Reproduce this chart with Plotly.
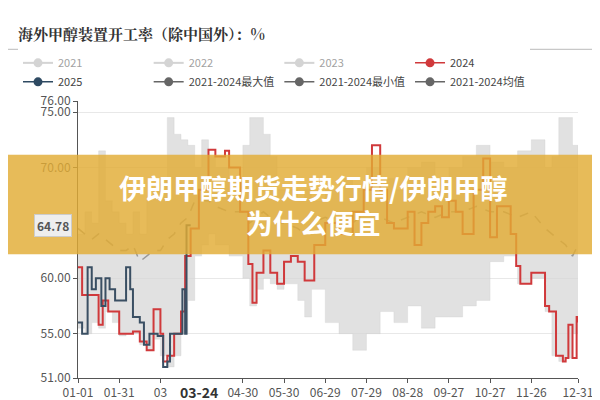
import pandas as pd
import plotly.graph_objects as go

base = pd.Timestamp("2023-01-01")

# shared day offsets for the 2021-2024 statistics band
band_days = [0, 5, 10, 15, 20, 25, 30, 35, 40, 45, 50, 55, 60, 65, 70, 75, 80, 85, 90, 95, 100, 110,
             120, 125, 130, 135, 140, 145, 150, 160, 165, 170, 180, 190, 200, 210, 220, 230, 240, 250,
             260, 270, 280, 290, 300, 310, 320, 330, 340, 345, 350, 355, 360, 364]
max_vals = [64, 66, 65, 71.5, 67, 66, 65, 64, 66, 64, 67, 68, 69, 74.5, 73, 72.5, 72, 70, 72.5, 71, 70, 69,
            72, 74.5, 74.5, 73, 71, 68, 68, 67, 68, 67, 68, 69, 68, 70, 69, 68, 70, 70.5,
            69, 70, 71, 72, 70.5, 70, 71.5, 72.5, 70, 71, 74.5, 74.5, 72, 66]
min_vals = [55.5, 55, 56, 55.5, 57, 56, 54.8, 55, 55, 54, 53.5, 54.5, 53, 52, 53, 55, 58, 62, 63, 64, 63, 62,
            60, 57.5, 59, 60, 59.5, 59, 59.5, 58, 56.5, 59, 56, 55, 53.5, 55, 57, 56, 57.5, 55.5,
            56.5, 56.5, 57.5, 58, 61.5, 62, 59.5, 60, 57, 53, 52.5, 52.8, 55, 56]
avg_vals = [64.5, 64, 63.5, 64, 63.5, 63, 62.5, 62.5, 63, 61.5, 62, 62.5, 62.5, 63.5, 64, 65, 65.5, 67, 67, 67, 66.5, 66,
            66, 65, 65.5, 66, 65.5, 65, 65, 64.5, 64, 65, 65.5, 65, 65, 66, 65.5, 65, 65.5, 66,
            65.5, 66, 66, 66.5, 66, 66, 65.5, 66, 64.5, 64, 63.5, 63, 62, 63]

days_2024 = [0, 3, 10, 15, 18, 22, 30, 40, 45, 50, 55, 60, 62, 65, 70, 75, 78, 82, 88, 95, 100, 107, 110,
             118, 124, 127, 130, 135, 140, 145, 150, 155, 160, 165, 172, 180, 190, 200, 208, 214, 220,
             225, 230, 240, 245, 250, 255, 260, 265, 270, 275, 280, 288, 295, 300, 305, 310, 315, 319,
             322, 330, 336, 340, 343, 348, 353, 355, 357, 360, 363, 364]
vals_2024 = [61, 58.5, 58.5, 55.8, 58, 57, 55, 55.2, 54.3, 53.5, 57.2, 55, 52.5, 53, 55, 57, 62, 64.5, 68, 71.6, 71, 71.5, 70,
             66, 61.3, 57.8, 60.5, 62.5, 60.5, 59.5, 61.5, 62, 61.5, 59.8, 63, 65, 64, 66, 68, 72, 68,
             65, 64.5, 66, 63, 65, 66, 66.5, 65.5, 67, 66, 64, 68, 70.8, 63.7, 66.5, 66.5, 64, 61.1,
             59.5, 60.5, 60.5, 57.5, 57, 53, 52.5, 52.8, 55.8, 52.8, 56.5, 56]

days_2025 = [0, 3, 7, 10, 13, 17, 20, 23, 27, 30, 35, 38, 40, 45, 48, 52, 58, 62, 65, 67, 73, 76, 78, 79, 82]
vals_2025 = [56, 55, 61, 59, 60, 57.5, 60, 59, 58, 58, 61, 59, 56.5, 56, 54, 55, 54.8, 52, 52.5, 55, 55, 59, 55, 64.78, 64.78]

tick_days = [0, 30, 60, 120, 150, 180, 210, 240, 270, 300, 330, 364]
tick_text = ["01-01", "01-31", "03", "04-30", "05-30", "06-29", "07-29", "08-28", "09-27", "10-27", "11-26", "12-31"]


def to_dates(days):
    return [(base + pd.Timedelta(days=d)).strftime("%Y-%m-%d") for d in days]


fig = go.Figure()
for yr in ["2021", "2022", "2023"]:
    fig.add_trace(go.Scatter(x=[None], y=[None], name=yr, mode="lines+markers",
                             line=dict(color="#aaaaaa"), marker=dict(size=9), visible="legendonly"))
# legend entries
for name, col in [("2024", "#d0393b"), ("2025", "#2e4a62"), ("2021-2024最大值", "#666666"),
                  ("2021-2024最小值", "#666666"), ("2021-2024均值", "#666666")]:
    fig.add_trace(go.Scatter(x=[None], y=[None], name=name, mode="lines+markers",
                             line=dict(color=col, width=1.5), marker=dict(color=col, size=9)))

fig.add_trace(go.Scatter(x=to_dates(band_days), y=max_vals, name="2021-2024最大值", mode="lines",
                         line=dict(color="rgba(200,200,200,0.5)", width=0.5, shape="hv"),
                         showlegend=False))
fig.add_trace(go.Scatter(x=to_dates(band_days), y=min_vals, name="2021-2024最小值", mode="lines",
                         line=dict(color="rgba(200,200,200,0.5)", width=0.5, shape="hv"),
                         fill="tonexty", fillcolor="rgba(215,215,215,0.75)", showlegend=False))
fig.add_trace(go.Scatter(x=to_dates(band_days), y=avg_vals, name="2021-2024均值", mode="lines",
                         line=dict(color="#999999", width=1.5, dash="dash"), showlegend=False))
fig.add_trace(go.Scatter(x=to_dates(days_2024), y=vals_2024, name="2024", mode="lines",
                         line=dict(color="#d0393b", width=2, shape="hv"), showlegend=False))
fig.add_trace(go.Scatter(x=to_dates(days_2025), y=vals_2025, name="2025", mode="lines",
                         line=dict(color="#3a4f63", width=2, shape="hv"), showlegend=False))

fig.add_annotation(xref="paper", yref="y", x=0, y=64.78, text="<b>64.78</b>", showarrow=False,
                   xanchor="right", xshift=-6, font=dict(size=12, color="#555"),
                   bgcolor="#eeeeee", bordercolor="#cccccc", borderwidth=1, borderpad=2)
fig.add_annotation(xref="x", yref="paper", x=to_dates([88])[0], y=0, yshift=-2, yanchor="top",
                   text="<b>03-24</b>", showarrow=False, font=dict(size=14, color="#333"))
fig.add_annotation(xref="paper", yref="paper", x=-0.125, y=1.29, xanchor="left",
                   text="<b>海外甲醇装置开工率（除中国外）：%</b>", showarrow=False,
                   font=dict(size=15, color="#333", family="Noto Serif CJK SC, Noto Sans CJK SC"))

# banner overlay
fig.add_shape(type="rect", xref="paper", yref="paper", x0=-0.2, x1=1.1,
              y0=(377 - 250) / 284, y1=(377 - 148) / 284,
              fillcolor="rgba(226,172,52,0.82)", line_width=0, layer="above")
fig.add_annotation(xref="paper", yref="paper", x=0.47, y=(377 - 200) / 284,
                   text="<b>伊朗甲醇期货走势行情/伊朗甲醇<br>为什么便宜</b>", showarrow=False,
                   font=dict(size=27, color="white", family="Noto Sans CJK SC"), align="center")

fig.add_shape(type="line", xref="paper", yref="paper", x0=-0.155, x1=1.05,
              y0=(377 - 40) / 284, y1=(377 - 40) / 284, line=dict(color="#bbbbbb", width=1))

fig.update_layout(
    width=600, height=400,
    margin=dict(l=70, r=30, t=93, b=30, autoexpand=False),
    plot_bgcolor="white", paper_bgcolor="white",
    font=dict(family="Noto Sans CJK SC, Roboto", size=12, color="#555"),
    legend=dict(orientation="h", x=-0.12, y=1.19, xanchor="left", yanchor="top", traceorder="normal",
                font=dict(size=11, color="#444"), itemwidth=30, tracegroupgap=0),
)
fig.update_xaxes(type="date", range=to_dates([0, 364]), tickvals=to_dates(tick_days),
                 ticktext=tick_text, showgrid=False, showline=True, linecolor="#555",
                 ticks="outside", tickcolor="#555", ticklen=4, tickfont=dict(size=12, color="#555"))
fig.update_yaxes(range=[51, 76], tickvals=[51, 55, 60, 70, 75, 76], tickformat=".2f",
                 showgrid=True, gridcolor="#e8e8e8", showline=True, linecolor="#555",
                 ticks="outside", tickcolor="#555", ticklen=4, zeroline=False,
                 tickfont=dict(size=12, color="#555"))

fig.write_html("out.html")
